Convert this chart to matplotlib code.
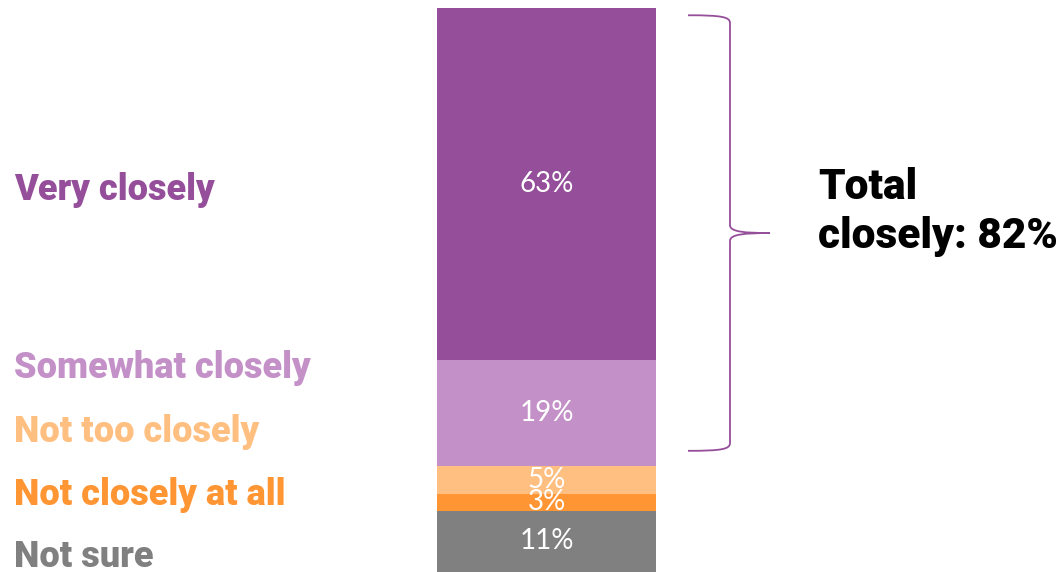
import matplotlib
matplotlib.use("Agg")
import matplotlib.pyplot as plt
from matplotlib.path import Path
from matplotlib.patches import PathPatch

categories = ["Not sure", "Not closely at all", "Not too closely", "Somewhat closely", "Very closely"]
values = [11, 3, 5, 19, 63]
colors = ["#808080", "#FF9533", "#FFBF80", "#C490C8", "#954F9A"]
value_labels = ["11%", "3%", "5%", "19%", "63%"]
total_label = "Total\nclosely: 82%"
total_value = values[3] + values[4]

W, H = 1061, 572
fig = plt.figure(figsize=(W / 100, H / 100), dpi=100)
ax = fig.add_axes([0, 0, 1, 1])
ax.set_xlim(0, W)
px_per_pct = 564 / sum(values)
ax.set_ylim(0, H / px_per_pct)
ax.axis("off")

bar_x, bar_w = 546.5, 219
bottom = 0
for v, c, lab in zip(values, colors, value_labels):
    ax.bar(bar_x, v, width=bar_w, bottom=bottom, color=c, edgecolor="none")
    ax.text(bar_x, bottom + v / 2, lab, ha="center", va="center",
            color="white", fontsize=20, family=["Lato", "DejaVu Sans"])
    bottom += v

# left category labels (figure pixel positions)
label_y = {"Very closely": 190, "Somewhat closely": 368, "Not too closely": 432,
           "Not closely at all": 495, "Not sure": 557}
for cat, c in zip(categories, colors):
    fig.text(14 / W, 1 - label_y[cat] / H, cat, ha="left", va="center",
             color=c, fontsize=26, fontweight="heavy", family=["Roboto", "DejaVu Sans"])

# bracket around total
top = sum(values) - 1.3
bot = sum(values) - total_value + 2.7
mid = (top + bot) / 2
r = 1.4
xl, xv, xt = 688, 730, 770
verts = [(xl, top), (722, top), (xv, top - 0.3), (xv, top - r),
         (xv, mid + r),
         (xv, mid + 0.2), (745, mid), (xt, mid),
         (745, mid), (xv, mid - 0.2), (xv, mid - r),
         (xv, bot + r),
         (xv, bot + 0.3), (722, bot), (xl, bot)]
codes = [Path.MOVETO, Path.CURVE4, Path.CURVE4, Path.CURVE4,
         Path.LINETO,
         Path.CURVE4, Path.CURVE4, Path.CURVE4,
         Path.CURVE4, Path.CURVE4, Path.CURVE4,
         Path.LINETO,
         Path.CURVE4, Path.CURVE4, Path.CURVE4]
ax.add_patch(PathPatch(Path(verts, codes), facecolor="none", edgecolor="#954F9A", lw=1.3))

fig.text(818 / W, 1 - 212 / H, total_label, ha="left", va="center", color="black",
         fontsize=30.5, fontweight="heavy", family=["Roboto", "DejaVu Sans"], linespacing=1.22)

fig.savefig("out.png", dpi=100)
